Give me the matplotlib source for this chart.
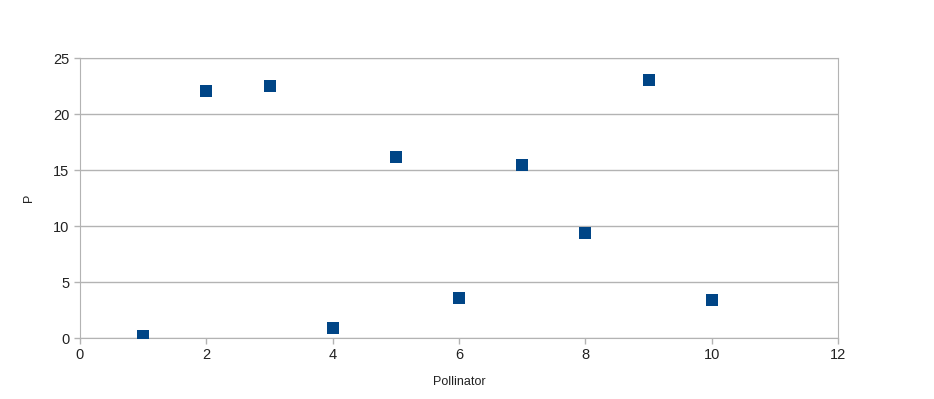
import matplotlib.pyplot as plt

plt.rcParams['font.family'] = ['Liberation Sans', 'DejaVu Sans']

# pollinator number vs P
pollinator = [1, 2, 3, 4, 5, 6, 7, 8, 9, 10]
p_values = [0.2, 22.05, 22.5, 0.9, 16.2, 3.55, 15.45, 9.4, 23.05, 3.4]

x_ticks = [0, 2, 4, 6, 8, 10, 12]
y_ticks = [0, 5, 10, 15, 20, 25]

fig = plt.figure(figsize=(9.34, 3.99), dpi=100)
ax = fig.add_axes([80 / 934, 61 / 399, 758 / 934, 280 / 399])

ax.scatter(pollinator, p_values, marker='s', s=75, color='#004586',
           linewidths=0, zorder=3)

ax.set_xlim(0, 12)
ax.set_ylim(0, 25)
ax.set_xticks(x_ticks)
ax.set_yticks(y_ticks)

ax.grid(axis='y', color='#b3b3b3', linewidth=1)
for side in ['left', 'right', 'top', 'bottom']:
    ax.spines[side].set_color('#b3b3b3')
ax.tick_params(colors='#b3b3b3', labelcolor='#222222', labelsize=10.5,
               length=4, width=1)

ax.set_xlabel('Pollinator', fontsize=9, color='#222222', labelpad=10)
ax.set_ylabel('P', fontsize=9, color='#222222', labelpad=13)

plt.savefig('out.png', dpi=100)
